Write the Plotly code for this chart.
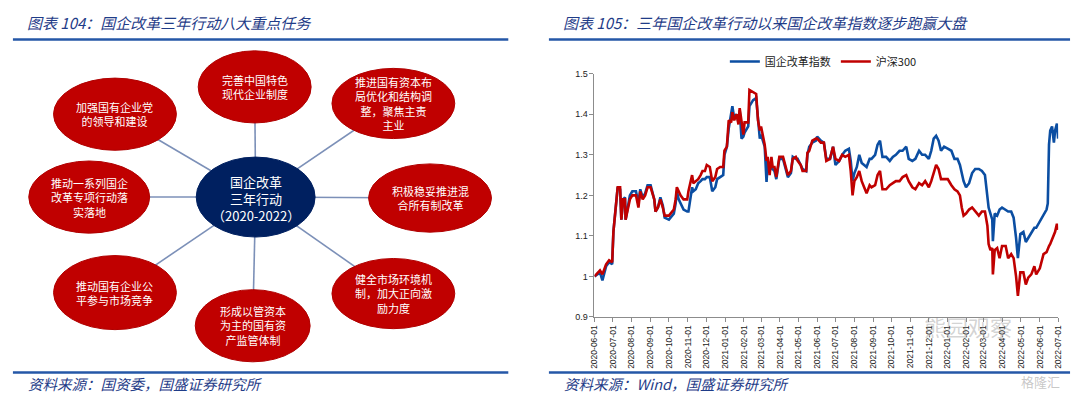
import plotly.graph_objects as go

# ---------------- data ----------------
left_title = "图表 104：国企改革三年行动八大重点任务"
right_title = "图表 105：三年国企改革行动以来国企改革指数逐步跑赢大盘"
left_source = "资料来源：国资委，国盛证券研究所"
right_source = "资料来源：Wind，国盛证券研究所"

hub_label = "国企改革<br>三年行动<br>（2020-2022）"
task_labels = [
    "完善中国特色<br>现代企业制度",
    "推进国有资本布<br>局优化和结构调<br>整，聚焦主责<br>主业",
    "积极稳妥推进混<br>合所有制改革",
    "健全市场环境机<br>制，加大正向激<br>励力度",
    "形成以管资本<br>为主的国有资<br>产监管体制",
    "推动国有企业公<br>平参与市场竞争",
    "推动一系列国企<br>改革专项行动落<br>实落地",
    "加强国有企业党<br>的领导和建设",
]

series_names = ["国企改革指数", "沪深300"]

dates = [
    "2020-06-01", "2020-06-06", "2020-06-10", "2020-06-14", "2020-06-20", "2020-06-25", "2020-06-30",
    "2020-07-02", "2020-07-06", "2020-07-09", "2020-07-13", "2020-07-15", "2020-07-18", "2020-07-21", "2020-07-22", "2020-07-26", "2020-07-29",
    "2020-08-02", "2020-08-08", "2020-08-12", "2020-08-15", "2020-08-19", "2020-08-23", "2020-08-27",
    "2020-09-01", "2020-09-07", "2020-09-09", "2020-09-13", "2020-09-17", "2020-09-21", "2020-09-24",
    "2020-10-01", "2020-10-09", "2020-10-12", "2020-10-14", "2020-10-17", "2020-10-20", "2020-10-25", "2020-10-31",
    "2020-11-02", "2020-11-08", "2020-11-10", "2020-11-14", "2020-11-18", "2020-11-22", "2020-11-25", "2020-11-29",
    "2020-12-02", "2020-12-07", "2020-12-11", "2020-12-16", "2020-12-19", "2020-12-24", "2020-12-29", "2020-12-31",
    "2021-01-04", "2021-01-07", "2021-01-11", "2021-01-13", "2021-01-16", "2021-01-20", "2021-01-23", "2021-01-25", "2021-01-28", "2021-01-31",
    "2021-02-02", "2021-02-08", "2021-02-10", "2021-02-16", "2021-02-21", "2021-02-24", "2021-02-27",
    "2021-03-01", "2021-03-04", "2021-03-07", "2021-03-10", "2021-03-12", "2021-03-15", "2021-03-18", "2021-03-20", "2021-03-23", "2021-03-26", "2021-03-29", "2021-03-31",
    "2021-04-06", "2021-04-11", "2021-04-14", "2021-04-19", "2021-04-22", "2021-04-27", "2021-04-30",
    "2021-05-05", "2021-05-08", "2021-05-14", "2021-05-16", "2021-05-19", "2021-05-24", "2021-05-30",
    "2021-06-01", "2021-06-07", "2021-06-12", "2021-06-16", "2021-06-22", "2021-06-27",
    "2021-07-01", "2021-07-07", "2021-07-12", "2021-07-17", "2021-07-23", "2021-07-26", "2021-07-29",
    "2021-08-01", "2021-08-05", "2021-08-09", "2021-08-13", "2021-08-17", "2021-08-21", "2021-08-26", "2021-08-29",
    "2021-09-04", "2021-09-08", "2021-09-12", "2021-09-16", "2021-09-22", "2021-09-28",
    "2021-10-03", "2021-10-08", "2021-10-14", "2021-10-19", "2021-10-25", "2021-10-29",
    "2021-11-04", "2021-11-09", "2021-11-15", "2021-11-20", "2021-11-25",
    "2021-12-01", "2021-12-05", "2021-12-09", "2021-12-13", "2021-12-17", "2021-12-21", "2021-12-26",
    "2022-01-01", "2022-01-07", "2022-01-12", "2022-01-17", "2022-01-21", "2022-01-24", "2022-01-27", "2022-01-31",
    "2022-02-05", "2022-02-10", "2022-02-15", "2022-02-21", "2022-02-26",
    "2022-03-03", "2022-03-07", "2022-03-09", "2022-03-12", "2022-03-15", "2022-03-16", "2022-03-19", "2022-03-23", "2022-03-27", "2022-03-31",
    "2022-04-06", "2022-04-10", "2022-04-15", "2022-04-19", "2022-04-23", "2022-04-26", "2022-04-30",
    "2022-05-05", "2022-05-09", "2022-05-13", "2022-05-18", "2022-05-23", "2022-05-26",
    "2022-06-01", "2022-06-07", "2022-06-12", "2022-06-14", "2022-06-16", "2022-06-18", "2022-06-21", "2022-06-24", "2022-06-26", "2022-06-29", "2022-07-01",
]

reform_index = [
    1.000, 1.005, 1.010, 0.990, 1.025, 1.035, 1.030,
    1.110, 1.180, 1.220, 1.215, 1.140, 1.190, 1.195, 1.140, 1.175, 1.200,
    1.210, 1.210, 1.180, 1.215, 1.195, 1.205, 1.225,
    1.225, 1.190, 1.160, 1.170, 1.195, 1.175, 1.145,
    1.140, 1.155, 1.180, 1.210, 1.190, 1.180, 1.165, 1.160,
    1.160, 1.220, 1.210, 1.215, 1.230, 1.235, 1.240, 1.240,
    1.245, 1.245, 1.210, 1.220, 1.240, 1.245, 1.250, 1.300,
    1.320, 1.365, 1.400, 1.420, 1.390, 1.400, 1.380, 1.410, 1.340, 1.345,
    1.355, 1.370, 1.420, 1.435, 1.440, 1.380, 1.340,
    1.350, 1.335, 1.320, 1.233, 1.285, 1.260, 1.270, 1.265, 1.260, 1.240, 1.270, 1.290,
    1.290, 1.265, 1.245, 1.255, 1.295, 1.290, 1.290,
    1.275, 1.265, 1.260, 1.300, 1.320, 1.330, 1.335,
    1.345, 1.335, 1.330, 1.290, 1.290, 1.320,
    1.275, 1.285, 1.300, 1.310, 1.315, 1.285, 1.235,
    1.255, 1.270, 1.300, 1.280, 1.275, 1.270, 1.290, 1.290,
    1.300, 1.325, 1.335, 1.295, 1.295, 1.285,
    1.295, 1.300, 1.310, 1.310, 1.320, 1.290,
    1.285, 1.290, 1.310, 1.300, 1.300,
    1.290, 1.310, 1.340, 1.347, 1.335, 1.310, 1.320,
    1.315, 1.310, 1.290, 1.290, 1.275, 1.255, 1.235, 1.220,
    1.230, 1.255, 1.265, 1.265, 1.260,
    1.250, 1.205, 1.170, 1.155, 1.140, 1.087, 1.155, 1.150, 1.165, 1.170,
    1.165, 1.160, 1.160, 1.145, 1.095, 1.045, 1.105,
    1.110, 1.085, 1.095, 1.110, 1.120, 1.120,
    1.135, 1.150, 1.165, 1.180, 1.325, 1.360, 1.370, 1.330, 1.360, 1.377, 1.340,
]

csi300 = [
    1.000, 1.008, 1.015, 1.005, 1.030, 1.040, 1.035,
    1.110, 1.180, 1.220, 1.220, 1.140, 1.190, 1.190, 1.140, 1.170, 1.190,
    1.200, 1.200, 1.170, 1.210, 1.190, 1.200, 1.220,
    1.220, 1.190, 1.160, 1.170, 1.190, 1.170, 1.150,
    1.150, 1.165, 1.190, 1.220, 1.210, 1.200, 1.190, 1.190,
    1.210, 1.250, 1.230, 1.235, 1.240, 1.250, 1.260, 1.260,
    1.275, 1.270, 1.235, 1.245, 1.265, 1.270, 1.270, 1.310,
    1.320, 1.385, 1.380, 1.405, 1.385, 1.400, 1.375, 1.415, 1.380, 1.350,
    1.380, 1.380, 1.460, 1.455, 1.450, 1.385, 1.360,
    1.370, 1.345, 1.325, 1.285, 1.295, 1.250, 1.295, 1.270, 1.270, 1.245, 1.275, 1.295,
    1.295, 1.270, 1.250, 1.260, 1.290, 1.295, 1.285,
    1.275, 1.260, 1.260, 1.305, 1.310, 1.335, 1.340,
    1.340, 1.330, 1.330, 1.285, 1.290, 1.320,
    1.290, 1.285, 1.300, 1.295, 1.300, 1.260, 1.200,
    1.235, 1.245, 1.260, 1.235, 1.220, 1.205, 1.225, 1.220,
    1.225, 1.250, 1.260, 1.215, 1.215, 1.225,
    1.230, 1.235, 1.235, 1.245, 1.250, 1.235,
    1.220, 1.215, 1.230, 1.225, 1.235,
    1.220, 1.235, 1.255, 1.275, 1.265, 1.240, 1.240,
    1.240, 1.225, 1.215, 1.210, 1.200, 1.170, 1.150, 1.155,
    1.165, 1.170, 1.160, 1.150, 1.160,
    1.160, 1.125, 1.080, 1.065, 1.070, 1.005, 1.065, 1.070, 1.045, 1.075,
    1.075, 1.045, 1.055, 1.045, 1.000, 0.952, 1.010,
    1.010, 0.980, 0.997, 1.005, 1.025, 1.005,
    1.020, 1.055, 1.060, 1.070, 1.075, 1.080, 1.090, 1.100, 1.110, 1.130, 1.115,
]

x_tick_dates = [
    "2020-06-01", "2020-07-01", "2020-08-01", "2020-09-01", "2020-10-01", "2020-11-01",
    "2020-12-01", "2021-01-01", "2021-02-01", "2021-03-01", "2021-04-01", "2021-05-01",
    "2021-06-01", "2021-07-01", "2021-08-01", "2021-09-01", "2021-10-01", "2021-11-01",
    "2021-12-01", "2022-01-01", "2022-02-01", "2022-03-01", "2022-04-01", "2022-05-01",
    "2022-06-01", "2022-07-01",
]
y_tick_vals = [0.9, 1.0, 1.1, 1.2, 1.3, 1.4, 1.5]
y_tick_text = ["0.9", "1", "1.1", "1.2", "1.3", "1.4", "1.5"]

# ---------------- layout helpers ----------------
W, H = 1080, 399
CJK = "Noto Sans CJK SC"
TITLE_BLUE = "#1F3C88"
RULE_BLUE = "#2557A7"
RED = "#C00000"
NAVY = "#002060"
BLUE_LINE = "#0B4EA2"


def px(x):
    return x / W


def py(y):
    return 1 - y / H


fig = go.Figure()

# ---------------- line chart ----------------
fig.add_trace(go.Scatter(
    x=dates, y=reform_index, name=series_names[0], mode="lines",
    line=dict(color=BLUE_LINE, width=2.6),
))
fig.add_trace(go.Scatter(
    x=dates, y=csi300, name=series_names[1], mode="lines",
    line=dict(color=RED, width=2.6),
))

fig.update_xaxes(
    domain=[px(595), px(1063)],
    type="date",
    range=["2020-06-01", "2022-07-01"],
    tickvals=x_tick_dates,
    ticktext=x_tick_dates,
    tickangle=-90,
    tickfont=dict(family="Liberation Sans, Arial", size=8.5, color="#222222"),
    showline=True, linecolor="#8c8c8c", linewidth=1,
    ticks="outside", ticklen=4, tickcolor="#8c8c8c",
    showgrid=False, zeroline=False,
)
fig.update_yaxes(
    domain=[py(320), py(70.5)],
    range=[0.9, 1.5],
    tickvals=y_tick_vals,
    ticktext=y_tick_text,
    tickfont=dict(family="Liberation Sans, Arial", size=9, color="#222222"),
    showline=True, linecolor="#8c8c8c", linewidth=1,
    ticks="outside", ticklen=4, tickcolor="#8c8c8c",
    showgrid=False, zeroline=False,
)

shapes = []
annotations = []

# ---------------- frame: titles, rules, sources ----------------
for (x0, x1, ty, title, sy, source) in [
    (8, 508, 18, left_title, 388, left_source),
    (549, 1075, 18, right_title, 388, right_source),
]:
    shapes.append(dict(type="line", xref="paper", yref="paper",
                       x0=px(x0), x1=px(x1), y0=py(35.5), y1=py(35.5),
                       line=dict(color=RULE_BLUE, width=2.5)))
    shapes.append(dict(type="line", xref="paper", yref="paper",
                       x0=px(x0), x1=px(x1), y0=py(377), y1=py(377),
                       line=dict(color=RULE_BLUE, width=2.5)))
    annotations.append(dict(text=title, xref="paper", yref="paper",
                            x=px(x0 + 12), y=py(ty), xanchor="left", yanchor="middle",
                            showarrow=False,
                            font=dict(family=CJK, size=15, color=TITLE_BLUE, style="italic")))
    annotations.append(dict(text=source, xref="paper", yref="paper",
                            x=px(x0 + 13), y=py(sy), xanchor="left", yanchor="middle",
                            showarrow=False,
                            font=dict(family=CJK, size=14.5, color=TITLE_BLUE, style="italic")))

# ---------------- hub-and-spoke diagram ----------------
hub = (253, 197, 60, 41)
node_geom = [
    (252, 84, 57, 37),
    (392, 101, 62, 36),
    (429, 198, 62, 35),
    (392, 296, 62, 36),
    (250, 329, 58, 37),
    (111, 295, 62, 38),
    (85, 197, 61, 37),
    (111, 112, 62, 37),
]

for (cx, cy, rx, ry) in node_geom:
    shapes.append(dict(type="line", xref="paper", yref="paper",
                       x0=px(hub[0]), y0=py(hub[1]), x1=px(cx), y1=py(cy),
                       line=dict(color="#7C90B8", width=1.6)))

for (cx, cy, rx, ry), label in zip(node_geom, task_labels):
    shapes.append(dict(type="circle", xref="paper", yref="paper",
                       x0=px(cx - rx), x1=px(cx + rx), y0=py(cy + ry), y1=py(cy - ry),
                       fillcolor=RED, line=dict(color="#B00000", width=1)))
    annotations.append(dict(text=label, xref="paper", yref="paper",
                            x=px(cx), y=py(cy), xanchor="center", yanchor="middle",
                            align="center", showarrow=False,
                            font=dict(family=CJK, size=11, color="white")))

cx, cy, rx, ry = hub
shapes.append(dict(type="circle", xref="paper", yref="paper",
                   x0=px(cx - rx), x1=px(cx + rx), y0=py(cy + ry), y1=py(cy - ry),
                   fillcolor=NAVY, line=dict(color=NAVY, width=1)))
annotations.append(dict(text=hub_label, xref="paper", yref="paper",
                        x=px(cx), y=py(cy + 1), xanchor="center", yanchor="middle",
                        align="center", showarrow=False,
                        font=dict(family=CJK, size=13, color="white")))

# ---------------- faint watermarks ----------------
annotations.append(dict(text="熊园观察", xref="paper", yref="paper",
                        x=px(972), y=py(329), xanchor="center", yanchor="middle",
                        showarrow=False,
                        font=dict(family=CJK, size=22, color="rgba(130,130,130,0.35)")))
annotations.append(dict(text="格隆汇", xref="paper", yref="paper",
                        x=px(1045), y=py(386), xanchor="center", yanchor="middle",
                        showarrow=False,
                        font=dict(family=CJK, size=13, color="rgba(130,130,130,0.45)")))

fig.update_layout(
    width=W, height=H,
    margin=dict(l=0, r=0, t=0, b=0),
    paper_bgcolor="white", plot_bgcolor="white",
    shapes=shapes, annotations=annotations,
    showlegend=True,
    legend=dict(orientation="h", x=px(826), y=py(58), xanchor="center", yanchor="middle",
                font=dict(family=CJK, size=11, color="#222222"),
                itemwidth=30, bgcolor="rgba(0,0,0,0)"),
)

fig.write_html("out.html", config={"displayModeBar": False},
               post_script="document.body.style.margin='0';")
